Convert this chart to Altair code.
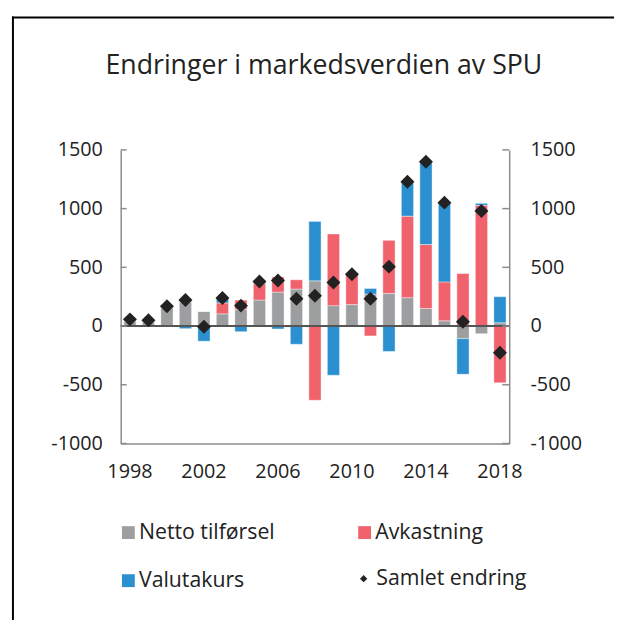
import altair as alt
import pandas as pd

# ---- data (billion NOK) ----
years = list(range(1998, 2019))
netto = [40, 30, 155, 205, 125, 104, 140, 222, 289, 315, 385, 174, 183, 272, 278, 242, 149, 45, -107, -65, 28]
avkastning = [14, 12, 5, 15, 0, 93, 81, 138, 129, 79, -632, 610, 253, -84, 452, 694, 545, 331, 447, 1028, -483]
valutakurs = [3, 3, 10, -22, -129, 34, -48, 20, -25, -155, 506, -419, -5, 48, -216, 295, 702, 669, -303, 17, 222]
samlet = [57, 50, 168, 222, -6, 239, 174, 379, 388, 233, 258, 371, 441, 233, 506, 1228, 1399, 1051, 37, 980, -228]

series_names = ["Netto tilførsel", "Avkastning", "Valutakurs"]
series_colors = ["#9c9ea0", "#f0626c", "#2b8fd0"]
total_name = "Samlet endring"
tick_values = [-1000, -500, 0, 500, 1000, 1500]
year_labels = ["1998", "2002", "2006", "2010", "2014", "2018"]

rows = []
for i, yr in enumerate(years):
    for k, (name, vals) in enumerate(zip(series_names, [netto, avkastning, valutakurs])):
        rows.append({"year": str(yr), "series": name, "value": vals[i], "order": k})
bars_df = pd.DataFrame(rows)
tot_df = pd.DataFrame({"year": [str(y) for y in years], "value": samlet, "label": total_name})
tick_df = pd.DataFrame({"tick": tick_values})
one_df = pd.DataFrame({"f": [0]})

W, H = 393, 297
FONT = "Open Sans"
TXT = "#222222"
AXC = "#8c8c8c"
NUM = "datum.value < 0 ? '-' + abs(datum.value) : '' + datum.value"
LEGFS = 21.5

yscale = alt.Scale(domain=[-1000, 1500], nice=False, zero=False)
xenc = alt.X(
    "year:O",
    sort=[str(y) for y in years],
    scale=alt.Scale(paddingInner=0.34, paddingOuter=0.17),
    axis=alt.Axis(values=year_labels, labelAngle=0, ticks=False, domain=True,
                  domainColor=AXC, domainWidth=1.5, labelFont=FONT, labelFontSize=20,
                  labelColor=TXT, labelPadding=18.5, title=None, grid=False),
)

bars = alt.Chart(bars_df).mark_bar(stroke="white", strokeWidth=0.8, strokeOpacity=0.5).encode(
    x=xenc,
    y=alt.Y("value:Q", scale=yscale, stack="zero",
            axis=alt.Axis(orient="left", values=tick_values, ticks=False, domain=True,
                          domainColor=AXC, domainWidth=1.5, labelFont=FONT, labelFontSize=20,
                          labelColor=TXT, labelPadding=18.5, grid=False, title=None,
                          labelExpr=NUM)),
    color=alt.Color("series:N", scale=alt.Scale(domain=series_names, range=series_colors),
                    legend=alt.Legend(orient="none", legendX=-3, legendY=376, columns=2,
                                      direction="horizontal", title=None, symbolType="square",
                                      symbolSize=169, symbolStrokeWidth=0, symbolOpacity=1,
                                      labelFont=FONT, labelFontSize=LEGFS, labelColor=TXT,
                                      labelOffset=0, columnPadding=80, rowPadding=26,
                                      labelLimit=300)),
    order=alt.Order("order:Q"),
)

zero = alt.Chart(one_df).mark_rule(color="#555555", strokeWidth=2).encode(
    y=alt.Y(datum=0, scale=yscale, axis=None)
)

lticks = alt.Chart(tick_df).mark_rule(color=AXC, strokeWidth=1.5).encode(
    y=alt.Y("tick:Q", scale=yscale, axis=None),
    x=alt.value(0), x2=alt.value(6),
)

rticks = alt.Chart(tick_df).mark_rule(color=AXC, strokeWidth=1.5).encode(
    y=alt.Y("tick:Q", scale=yscale,
            axis=alt.Axis(orient="right", values=tick_values, ticks=False, domain=True,
                          domainColor=AXC, domainWidth=1.5, labelFont=FONT, labelFontSize=20,
                          labelColor=TXT, labelPadding=21, grid=False, title=None,
                          labelExpr=NUM)),
    x=alt.value(W - 7), x2=alt.value(W),
)

points = alt.Chart(tot_df).mark_point(shape="diamond", filled=True, size=200, opacity=1).encode(
    x=alt.X("year:O", sort=[str(y) for y in years]),
    y=alt.Y("value:Q", scale=yscale, axis=None),
    color=alt.Color("label:N", scale=alt.Scale(domain=[total_name], range=[TXT]),
                    legend=alt.Legend(orient="none", legendX=235, legendY=423, title=None,
                                      symbolType="diamond", symbolSize=55, symbolOpacity=1,
                                      labelFont=FONT, labelFontSize=LEGFS, labelColor=TXT,
                                      labelOffset=2, labelLimit=300)),
)

frame_left = alt.Chart(one_df).mark_rule(color="black", strokeWidth=2).encode(
    x=alt.value(-109), y=alt.value(-135), y2=alt.value(480)
)
frame_top = alt.Chart(one_df).mark_rule(color="black", strokeWidth=2).encode(
    x=alt.value(-110), x2=alt.value(510), y=alt.value(-134)
)

chart = alt.layer(frame_left, frame_top, bars, zero, lticks, rticks, points).resolve_scale(
    color="independent"
).resolve_axis(y="independent").properties(
    width=W, height=H,
    title=alt.Title("Endringer i markedsverdien av SPU", font=FONT, fontSize=27,
                    fontWeight="normal", color=TXT, anchor="middle", frame="group",
                    dx=9, offset=-86, baseline="alphabetic"),
    autosize=alt.AutoSizeParams(type="none"),
    padding={"left": 114, "top": 140, "right": 106, "bottom": 175},
).configure_view(stroke=None)

chart.save("out.html", embed_options={"renderer": "svg", "actions": False})
